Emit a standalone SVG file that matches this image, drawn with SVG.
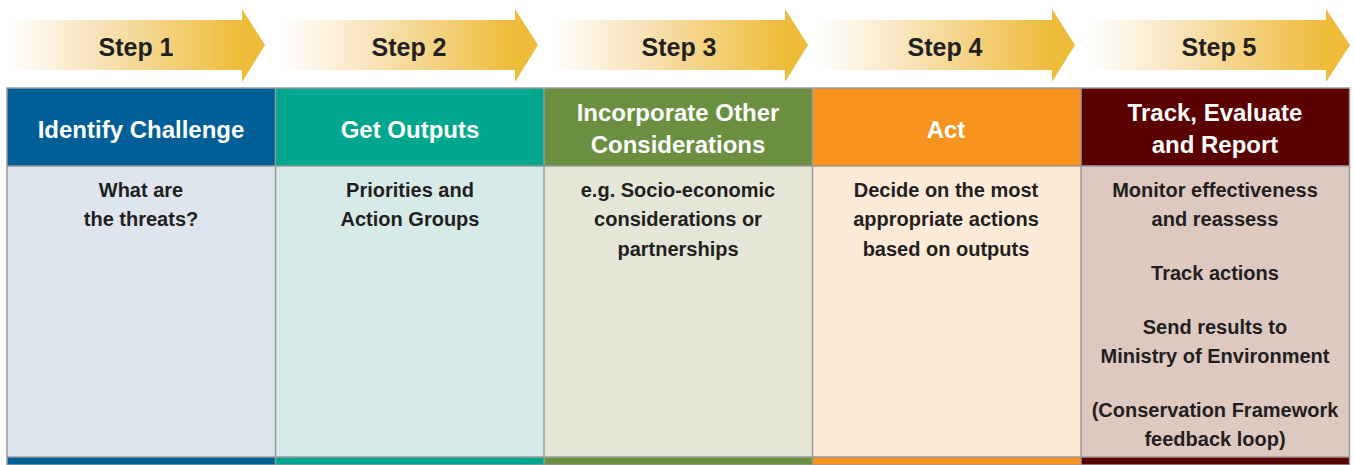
<svg xmlns="http://www.w3.org/2000/svg" width="1354" height="465" viewBox="0 0 1354 465">
  <defs>
    <linearGradient id="arrowFade" x1="0" y1="0" x2="1" y2="0">
      <stop offset="0" stop-color="#FFFFFF"/>
      <stop offset="0.35" stop-color="#F9E6C0"/>
      <stop offset="1" stop-color="#EEBB38"/>
    </linearGradient>
    <style>
      .step { font-family: "Liberation Sans", Arial, sans-serif; font-weight: bold; font-size: 25px; fill: #231F20; text-anchor: middle; }
      .head { font-family: "Liberation Sans", Arial, sans-serif; font-weight: bold; font-size: 24px; fill: #FFFFFF; text-anchor: middle; }
      .body { font-family: "Liberation Sans", Arial, sans-serif; font-weight: bold; font-size: 20px; fill: #231F20; text-anchor: middle; }
      .grid { stroke: #9A9A9A; stroke-width: 1.5; }
      .head-tip { fill: #EFBC3A; }
    </style>
  </defs>

  <rect width="1354" height="465" fill="#FFFFFF"/>

  <!-- step arrows -->
  <g id="arrow-1">
    <rect x="8" y="20" width="235" height="50" fill="url(#arrowFade)"/>
    <polygon class="head-tip" points="242,9 265,45 242,82"/>
    <text class="step" x="136" y="56">Step 1</text>
  </g>
  <g id="arrow-2">
    <rect x="282" y="20" width="234" height="50" fill="url(#arrowFade)"/>
    <polygon class="head-tip" points="515,9 538,45 515,82"/>
    <text class="step" x="409" y="56">Step 2</text>
  </g>
  <g id="arrow-3">
    <rect x="552" y="20" width="234" height="50" fill="url(#arrowFade)"/>
    <polygon class="head-tip" points="785,9 808,45 785,82"/>
    <text class="step" x="679" y="56">Step 3</text>
  </g>
  <g id="arrow-4">
    <rect x="818" y="20" width="235" height="50" fill="url(#arrowFade)"/>
    <polygon class="head-tip" points="1052,9 1075,45 1052,82"/>
    <text class="step" x="945" y="56">Step 4</text>
  </g>
  <g id="arrow-5">
    <rect x="1090" y="20" width="237" height="50" fill="url(#arrowFade)"/>
    <polygon class="head-tip" points="1326,9 1350,45 1326,82"/>
    <text class="step" x="1219" y="56">Step 5</text>
  </g>

  <!-- column 1 -->
  <g id="col-identify">
    <rect x="7" y="88" width="268.5" height="78" fill="#005F96"/>
    <rect x="7" y="166" width="268.5" height="291" fill="#DEE5EF"/>
    <rect x="7" y="457" width="268.5" height="8" fill="#005F96"/>
    <text class="head" x="141" y="138">Identify Challenge</text>
    <text class="body" x="141" y="197">What are</text>
    <text class="body" x="141" y="226">the threats?</text>
  </g>

  <!-- column 2 -->
  <g id="col-outputs">
    <rect x="275.5" y="88" width="268.5" height="78" fill="#00A78E"/>
    <rect x="275.5" y="166" width="268.5" height="291" fill="#D6EBE8"/>
    <rect x="275.5" y="457" width="268.5" height="8" fill="#00A78E"/>
    <text class="head" x="410" y="138">Get Outputs</text>
    <text class="body" x="410" y="197">Priorities and</text>
    <text class="body" x="410" y="226">Action Groups</text>
  </g>

  <!-- column 3 -->
  <g id="col-considerations">
    <rect x="544" y="88" width="268.5" height="78" fill="#6A8F41"/>
    <rect x="544" y="166" width="268.5" height="291" fill="#E5E6D8"/>
    <rect x="544" y="457" width="268.5" height="8" fill="#6A8F41"/>
    <text class="head" x="678" y="121">Incorporate Other</text>
    <text class="head" x="678" y="153">Considerations</text>
    <text class="body" x="678" y="197">e.g. Socio-economic</text>
    <text class="body" x="678" y="226">considerations or</text>
    <text class="body" x="678" y="256">partnerships</text>
  </g>

  <!-- column 4 -->
  <g id="col-act">
    <rect x="812.5" y="88" width="268.5" height="78" fill="#F7931E"/>
    <rect x="812.5" y="166" width="268.5" height="291" fill="#FDEBD8"/>
    <rect x="812.5" y="457" width="268.5" height="8" fill="#F7931E"/>
    <text class="head" x="946" y="138">Act</text>
    <text class="body" x="946" y="197">Decide on the most</text>
    <text class="body" x="946" y="226">appropriate actions</text>
    <text class="body" x="946" y="256">based on outputs</text>
  </g>

  <!-- column 5 -->
  <g id="col-track">
    <rect x="1081" y="88" width="268.5" height="78" fill="#5A0000"/>
    <rect x="1081" y="166" width="268.5" height="291" fill="#DDC9C0"/>
    <rect x="1081" y="457" width="268.5" height="8" fill="#5A0000"/>
    <text class="head" x="1215" y="121">Track, Evaluate</text>
    <text class="head" x="1215" y="153">and Report</text>
    <text class="body" x="1215" y="197">Monitor effectiveness</text>
    <text class="body" x="1215" y="226">and reassess</text>
    <text class="body" x="1215" y="280">Track actions</text>
    <text class="body" x="1215" y="334">Send results to</text>
    <text class="body" x="1215" y="363">Ministry of Environment</text>
    <text class="body" x="1215" y="417">(Conservation Framework</text>
    <text class="body" x="1215" y="446">feedback loop)</text>
  </g>

  <!-- table rules -->
  <g id="grid" class="grid" fill="none">
    <rect x="7" y="88" width="1342.5" height="377"/>
    <line x1="7" y1="166" x2="1349.5" y2="166"/>
    <line x1="7" y1="457" x2="1349.5" y2="457"/>
    <line x1="275.5" y1="88" x2="275.5" y2="465"/>
    <line x1="544" y1="88" x2="544" y2="465"/>
    <line x1="812.5" y1="88" x2="812.5" y2="465"/>
    <line x1="1081" y1="88" x2="1081" y2="465"/>
  </g>
</svg>
